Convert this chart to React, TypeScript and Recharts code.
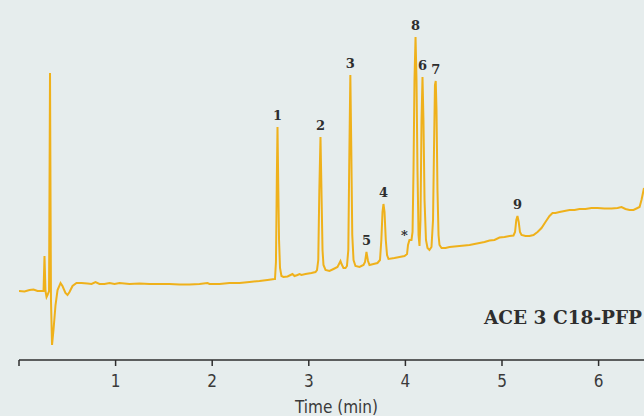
import { Label, Line, LineChart, ReferenceDot, XAxis, YAxis } from 'recharts';

// retention time (min)
const TIMES = [
  0, 0.057, 0.109, 0.15, 0.192, 0.254, 0.264, 0.274, 0.285, 0.295, 0.311, 0.321, 0.331, 0.342, 0.357,
  0.378, 0.399, 0.43, 0.45, 0.481, 0.502, 0.523, 0.554, 0.595, 0.647, 0.709, 0.751, 0.792, 0.833,
  0.885, 0.937, 0.989, 1.04, 1.144, 1.247, 1.351, 1.454, 1.558, 1.662, 1.765, 1.869, 1.951, 1.972,
  2.076, 2.179, 2.283, 2.386, 2.49, 2.572, 2.645,
  2.65, 2.66, 2.669, 2.676, 2.683, 2.692, 2.702, 2.717, 2.738, 2.78, 2.811, 2.831, 2.852, 2.883,
  2.904, 2.924, 2.966, 3.028, 3.069, 3.085,
  3.098, 3.109, 3.121, 3.131, 3.142, 3.152, 3.173, 3.214, 3.256, 3.297, 3.318, 3.328, 3.339, 3.359,
  3.38, 3.395,
  3.409, 3.419, 3.43, 3.44, 3.45, 3.463, 3.483, 3.525, 3.566, 3.582, 3.597, 3.613, 3.628, 3.67,
  3.711, 3.737,
  3.751, 3.763, 3.773, 3.784, 3.797, 3.81, 3.825, 3.887, 3.939, 3.991, 4.017,
  4.027, 4.042, 4.063, 4.074,
  4.084, 4.094, 4.105, 4.115, 4.125, 4.136, 4.146,
  4.156, 4.167, 4.177, 4.187, 4.198, 4.213, 4.229, 4.249, 4.27, 4.286,
  4.296, 4.306, 4.314, 4.322, 4.332, 4.343, 4.353, 4.374, 4.415, 4.457, 4.508, 4.56, 4.612, 4.664,
  4.715, 4.767, 4.819, 4.871, 4.922, 4.974, 5.026, 5.078, 5.119,
  5.135, 5.148, 5.16, 5.173, 5.186, 5.202, 5.243, 5.285, 5.326, 5.368, 5.409, 5.45, 5.492, 5.523,
  5.554, 5.595, 5.647, 5.699, 5.751, 5.802, 5.864, 5.926, 5.989, 6.061, 6.134, 6.196, 6.237, 6.278,
  6.32, 6.361, 6.403, 6.424, 6.444, 6.47,
];

// detector response (arbitrary units)
const SIGNAL = [
  69, 68.5, 70, 70.5, 69, 69, 104, 69, 63, 65, 69, 287, 60, 15, 30,
  55, 70, 77, 74, 67, 65, 68, 74, 77, 77, 76.5, 76, 78, 76,
  76, 77, 76, 77, 76, 76.5, 76, 76, 76, 75.5, 75.5, 76, 77, 76,
  76, 77, 77, 78, 79, 80, 81,
  81, 98, 180, 233, 180, 120, 92, 84, 83, 83.5, 85, 86, 84, 85,
  86, 85, 86, 87, 88, 90,
  100, 170, 223, 170, 110, 95, 90, 89, 91, 93, 97, 99, 96, 92,
  92, 94,
  110, 200, 285, 210, 125, 100, 94, 93, 95, 98, 108, 99, 95, 96,
  97, 100,
  120, 148, 156, 148, 120, 105, 101, 102, 103, 104, 106,
  115, 120, 120, 128,
  190, 280, 323, 280, 190, 125, 114,
  140, 240, 283, 240, 160, 120, 112, 110, 113, 140,
  210, 275, 279, 250, 170, 125, 115, 112, 112, 113, 113.5, 114, 114.5, 115,
  116, 117, 118, 119.5, 120, 122.5, 123, 124, 124.5,
  128, 140, 144, 138, 128, 125, 124, 124, 125, 128, 132, 138, 144, 147,
  147, 148, 149, 150, 150, 151, 151, 152, 152, 151.5, 151.5, 152, 153, 151,
  150, 150, 152, 153, 160, 172,
];

const PEAK_LABELS = ['1', '2', '3', '4', '5', '*', '8', '6', '7', '9'];
const PEAK_TIMES = [2.676, 3.121, 3.43, 3.773, 3.597, 3.991, 4.105, 4.177, 4.314, 5.16];
const PEAK_HEIGHTS = [233, 223, 285, 156, 108, 113, 323, 283, 279, 144];

const TIME_TICKS = [0, 1, 2, 3, 4, 5, 6];

const data = TIMES.map((t, i) => ({ t, v: SIGNAL[i] }));

const BG = '#e6eded';
const TRACE = '#efb11b';
const INK = '#2e2e2e';
const SANS = "'Liberation Sans Narrow', 'DejaVu Sans Condensed', sans-serif";

export default function App() {
  return (
    <div style={{ position: 'absolute', left: 0, top: 0, width: 644, height: 416, background: BG, overflow: 'hidden' }}>
      <LineChart width={644} height={416} data={data} margin={{ top: 20, right: 0, bottom: 0, left: 19 }}>
        <XAxis
          type="number"
          dataKey="t"
          domain={[0, 6.47]}
          ticks={TIME_TICKS}
          tickFormatter={(v: number) => (v === 0 ? '' : String(v))}
          allowDataOverflow
          height={56}
          axisLine={{ stroke: INK, strokeWidth: 1.5 }}
          tickLine={{ stroke: INK, strokeWidth: 1.5 }}
          tickSize={6}
          tickMargin={9}
          tick={{ fill: '#3a3a3a', fontSize: 17, fontFamily: SANS }}
        >
          <Label
            value="Time (min)"
            position="insideBottom"
            offset={3}
            dx={5}
            fill="#3a3a3a"
            fontSize={17}
            fontFamily={SANS}
          />
        </XAxis>
        <YAxis hide domain={[0, 340]} allowDataOverflow />
        <Line
          type="linear"
          dataKey="v"
          stroke={TRACE}
          strokeWidth={2}
          dot={false}
          isAnimationActive={false}
        />
        {PEAK_LABELS.map((lab, i) => (
          <ReferenceDot
            key={lab + i}
            x={PEAK_TIMES[i]}
            y={PEAK_HEIGHTS[i]}
            r={0}
            stroke="none"
            fill="none"
            label={{
              value: lab,
              position: 'top',
              offset: 7,
              fill: INK,
              fontSize: 13,
              fontWeight: 700,
              fontFamily: "'DejaVu Serif', serif",
            }}
          />
        ))}
      </LineChart>
      <svg width={644} height={416} style={{ position: 'absolute', left: 0, top: 0, pointerEvents: 'none' }}>
        <text x={484} y={324} fill={INK} fontSize={18.5} fontWeight={700} fontFamily="'DejaVu Serif', serif">
          ACE 3 C18-PFP
        </text>
      </svg>
    </div>
  );
}
